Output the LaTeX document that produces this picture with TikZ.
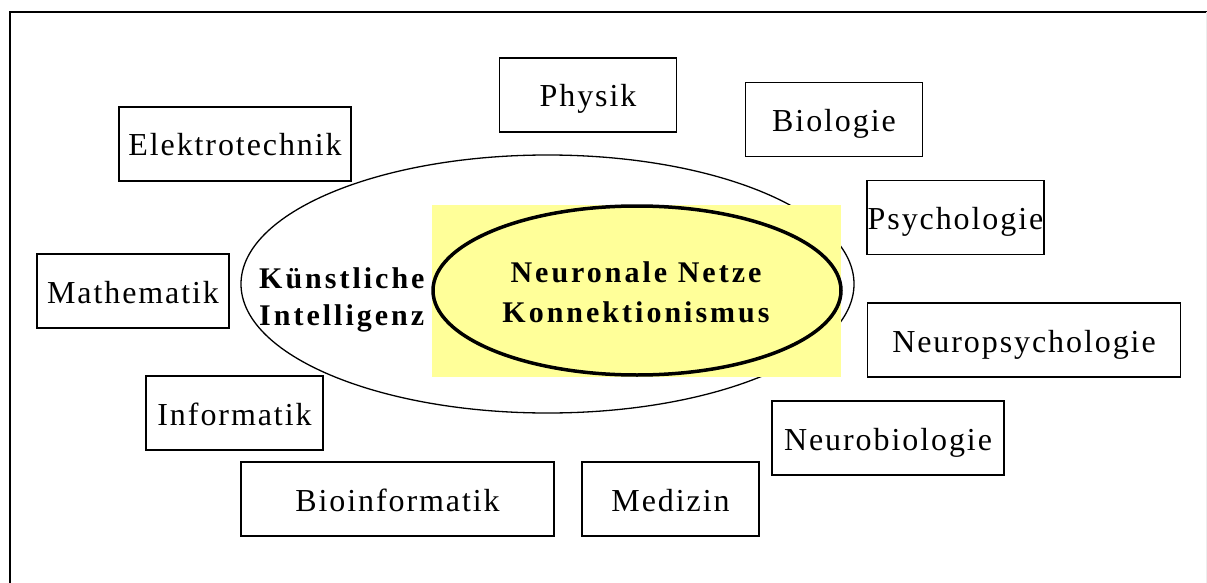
\documentclass[tikz,border=0pt]{standalone}
\usepackage{fontspec}
\setmainfont{Liberation Serif}
\newfontfamily\boxfont[LetterSpace=6]{Liberation Serif}
\newfontfamily\headfont[LetterSpace=10]{Liberation Serif}
\usetikzlibrary{shapes.geometric}
\definecolor{paleyellow}{HTML}{FFFF99}
\tikzset{
  fieldbox/.style={draw=black, line width=1.3pt, fill=white, inner sep=0pt,
    minimum height=74pt, text height=24pt, text depth=0pt,
    font=\boxfont\fontsize{32pt}{38pt}\selectfont},
  smallbox/.style={fieldbox, minimum width=177pt},
  midbox/.style={fieldbox, minimum width=232pt},
  widebox/.style={fieldbox, minimum width=313pt},
  headtext/.style={font=\headfont\bfseries\fontsize{30pt}{37pt}\selectfont, inner sep=0pt},
}
\begin{document}
\begin{tikzpicture}[x=1pt, y=-1pt]
\useasboundingbox (0,0) rectangle (1207,583);
\fill[white] (0,0) rectangle (1207,583);
% frame
\draw[line width=2.5pt] (10,583) -- (10,12) -- (1207,12);
\draw[black!7, line width=0.8pt] (1206.6,12) -- (1206.6,583);
% outer ellipse
\node[ellipse, draw, line width=1.3pt, minimum width=613pt, minimum height=258pt, inner sep=0pt] (ki) at (547.5,284) {};
% yellow backdrop
\fill[paleyellow] (432,205) rectangle (841,377);
% inner ellipse
\node[ellipse, draw, fill=paleyellow, line width=3.5pt, minimum width=408pt, minimum height=169pt, inner sep=0pt] (nn) at (637,290.5) {};
% texts
\node[headtext, align=center, anchor=base] (nntext) at (636,322) {Neuronale Netze\\[3pt]Konnektionismus};
\node[headtext, align=left, anchor=base west] (kitext) at (259,325) {Künstliche\\Intelligenz};
% boxes
\node[smallbox] (physik) at (588,95) {Physik};
\node[smallbox] (bio) at (834,119.5) {Biologie};
\node[midbox] (et) at (235,144) {Elektrotechnik};
\node[smallbox] (psy) at (955.5,217.5) {Psychologie};
\node[fieldbox, minimum width=192pt] (math) at (133,291) {Mathematik};
\node[widebox] (npsy) at (1024,340) {Neuropsychologie};
\node[smallbox] (inf) at (234.5,413) {Informatik};
\node[midbox] (nbio) at (888,438) {Neurobiologie};
\node[widebox] (bioinf) at (397.5,499) {Bioinformatik};
\node[smallbox] (med) at (670.5,499) {Medizin};
\end{tikzpicture}
\end{document}
